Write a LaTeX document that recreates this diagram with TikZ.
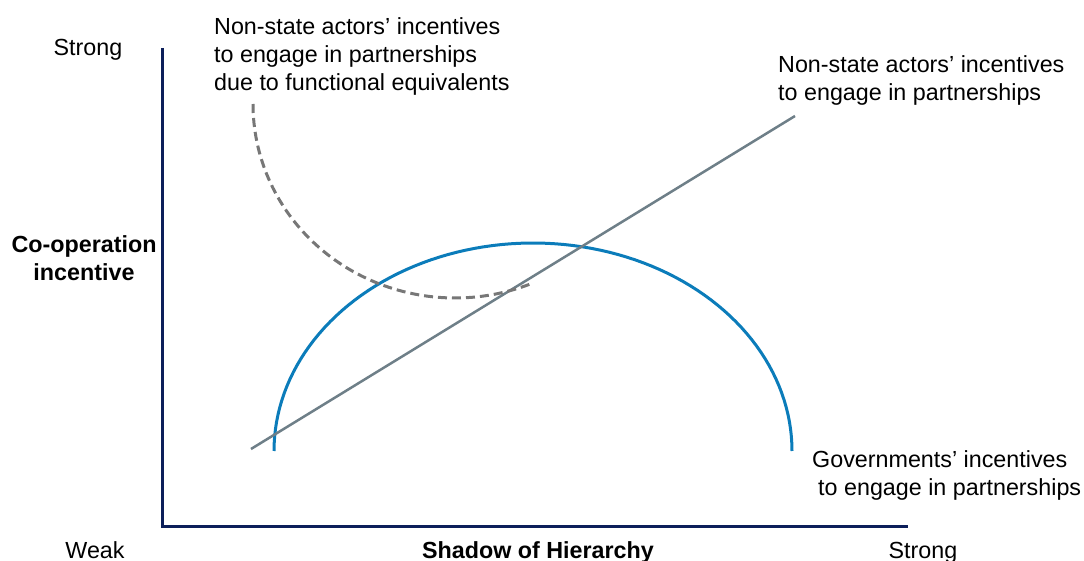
\documentclass[tikz,border=0pt]{standalone}
\usepackage{fontspec}
\setmainfont{Liberation Sans}
\begin{document}
\begin{tikzpicture}[x=1pt,y=-1pt,
  lbl/.style={inner sep=0pt,font=\fontsize{23.3}{28}\selectfont,align=left},
  blbl/.style={lbl,font=\fontsize{23.3}{28}\selectfont\bfseries,align=center},
  axisline/.style={draw=axisnavy,line width=3pt},
  govcurve/.style={draw=govblue,line width=3pt},
  nsaline/.style={draw=nsagray,line width=2.5pt},
  fecurve/.style={draw=fegray,line width=3pt,dash pattern=on 9pt off 5pt}]
\definecolor{axisnavy}{HTML}{0C1F5A}
\definecolor{govblue}{HTML}{0B7CBA}
\definecolor{nsagray}{HTML}{6E7F88}
\definecolor{fegray}{HTML}{777777}
\useasboundingbox (0,0) rectangle (1084,561);
% axes
\coordinate (ytop) at (162,48);
\coordinate (origin) at (162,526);
\coordinate (xend) at (908,526);
\draw[axisline] (ytop) -- (origin) -- (xend);
% governments curve
\draw[govcurve] plot[domain=0:180,samples=90] ({533+259*cos(\x)},{451-208*sin(\x)});
% non-state line
\coordinate (nsaA) at (251,449);
\coordinate (nsaB) at (795,116);
\draw[nsaline] (nsaA) -- (nsaB);
% functional equivalents dashed curve
\draw[fecurve] plot[domain=180:68,samples=80] ({455+202*cos(\x)},{104+194*sin(\x)});
% labels
\node[lbl,anchor=base] (strongy) at (88,56) {Strong};
\node[blbl,anchor=north] (yaxis) at (84,235) {Co-operation\\incentive};
\node[lbl,anchor=base] (weak) at (95,558) {Weak};
\node[blbl,anchor=base] (xaxis) at (538,558) {Shadow of Hierarchy};
\node[lbl,anchor=base] (strongx) at (923,558) {Strong};
\node[lbl,anchor=north west] (felbl) at (214,17) {Non-state actors’ incentives\\to engage in partnerships\\due to functional equivalents};
\node[lbl,anchor=north west] (nsalbl) at (778,55.5) {Non-state actors’ incentives\\to engage in partnerships};
\node[lbl,anchor=north west] (govlbl) at (812,450.5) {Governments’ incentives\\\hspace*{6pt}to engage in partnerships};
\end{tikzpicture}
\end{document}
